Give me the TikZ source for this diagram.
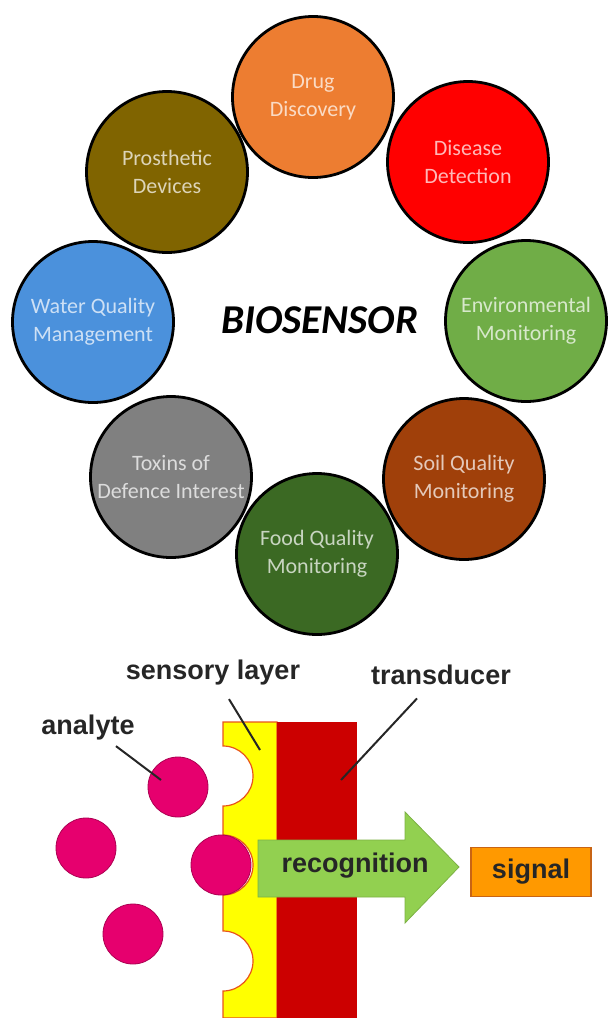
\documentclass[tikz,border=0pt]{standalone}
\usepackage{fontspec}
\usepackage{xcolor}
\newfontfamily\ringfont{Carlito}
\newfontfamily\partfont{Liberation Sans}
\definecolor{drugColor}{RGB}{237,125,49}
\definecolor{diseaseColor}{RGB}{255,0,0}
\definecolor{envColor}{RGB}{112,173,71}
\definecolor{soilColor}{RGB}{160,64,10}
\definecolor{foodColor}{RGB}{59,105,35}
\definecolor{toxinColor}{RGB}{128,128,128}
\definecolor{waterColor}{RGB}{75,145,220}
\definecolor{prosthColor}{RGB}{128,100,0}
\definecolor{analyteColor}{RGB}{230,0,110}
\definecolor{layerColor}{RGB}{255,255,0}
\definecolor{layerEdge}{RGB}{232,84,28}
\definecolor{transColor}{RGB}{204,0,0}
\definecolor{arrowColor}{RGB}{146,208,80}
\definecolor{signalColor}{RGB}{255,153,0}
\definecolor{signalEdge}{RGB}{200,100,20}

\begin{document}
\begin{tikzpicture}[x=1pt,y=1pt,
    ring/.style={circle, draw=black, line width=2.8pt, minimum size=161pt, inner sep=0pt, fill=#1, text=white!72!#1, align=center, font=\ringfont\fontsize{22}{28}\selectfont},
    analyte/.style={circle, draw=analyteColor!75!black, line width=0.8pt, fill=analyteColor, minimum size=60pt, inner sep=0pt},
    partlabel/.style={font=\partfont\bfseries\fontsize{27}{30}\selectfont, text=black!85},
    pointer/.style={draw=black!85, line width=2pt}]
    \useasboundingbox (0,0) rectangle (608,-1018);
    % application ring
    \node[ring=prosthColor] (prosth) at (167,-172) {Prosthetic\\Devices};
    \node[ring=waterColor] (water) at (93,-322) {Water Quality\\Management};
    \node[ring=toxinColor] (toxin) at (171,-477) {Toxins of\\Defence Interest};
    \node[ring=foodColor] (food) at (317,-554) {Food Quality\\Monitoring};
    \node[ring=soilColor] (soil) at (464,-479) {Soil Quality\\Monitoring};
    \node[ring=envColor] (env) at (526,-321) {Environmental\\Monitoring};
    \node[ring=diseaseColor] (disease) at (468,-162) {Disease\\Detection};
    \node[ring=drugColor] (drug) at (313,-97) {Drug\\Discovery};
    \node[font=\ringfont\bfseries\itshape\fontsize{41}{44}\selectfont] (bio) at (320,-320) {BIOSENSOR};

    % sensor principle
    \filldraw[fill=layerColor, draw=layerEdge, line width=1.2pt] (277,-722) -- (223,-722) -- (223,-746)
        arc[start angle=90, end angle=-90, radius=30] -- (223,-835)
        arc[start angle=90, end angle=-90, radius=30] -- (223,-931)
        arc[start angle=90, end angle=-90, radius=30] -- (223,-1018) -- (277,-1018) -- cycle;
    \node[fill=transColor, minimum width=80pt, minimum height=296pt, inner sep=0pt, anchor=north west] (transducer) at (277,-722) {};
    \node[analyte] (a1) at (178,-787) {};
    \node[analyte] (a2) at (86,-848) {};
    \node[analyte] (a3) at (221,-865) {};
    \node[analyte] (a4) at (133,-934) {};
    \filldraw[fill=arrowColor, draw=arrowColor!85!black, line width=0.8pt] (258,-840) -- (405,-840) -- (405,-812) -- (459,-867) -- (405,-923) -- (405,-897) -- (258,-897) -- cycle;
    \node[partlabel] (reclbl) at (355,-866) {recognition};
    \node[partlabel, draw=signalEdge, fill=signalColor, line width=1.2pt, minimum width=120pt, minimum height=49pt] (signal) at (531,-872) {signal};

    \node[partlabel] (senslbl) at (213,-673) {sensory layer};
    \node[partlabel] (translbl) at (441,-675) {transducer};
    \node[partlabel] (analbl) at (88,-728) {analyte};
    \coordinate (senspt) at (260,-750);
    \coordinate (transpt) at (341,-780);
    \coordinate (anapt) at (161,-780);
    \draw[pointer] ([xshift=16pt,yshift=-10pt]senslbl.south) -- (senspt);
    \draw[pointer] ([xshift=-24pt,yshift=-10pt]translbl.south) -- (transpt);
    \draw[pointer] ([xshift=28pt,yshift=-2pt]analbl.south) -- (anapt);
\end{tikzpicture}
\end{document}
